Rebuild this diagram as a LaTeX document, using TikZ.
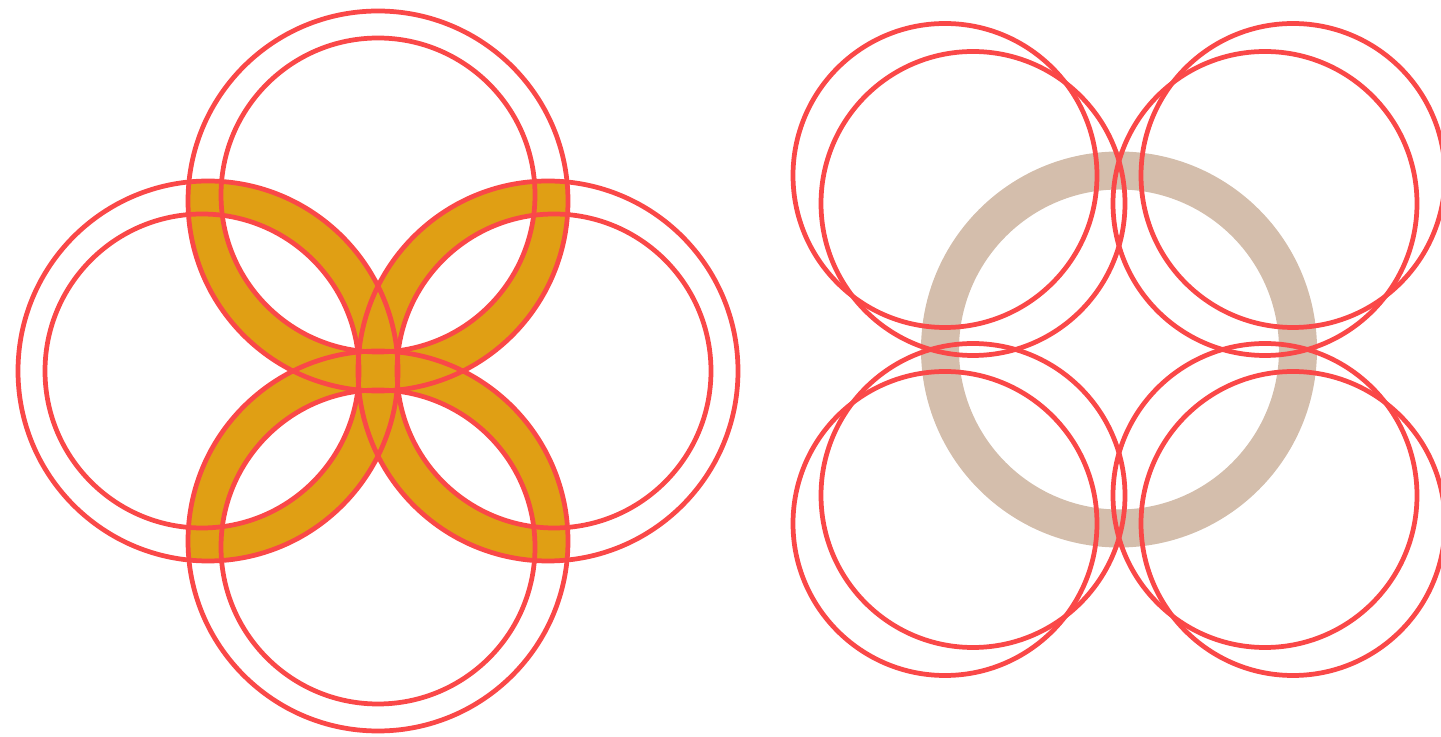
\documentclass[tikz,border=0pt]{standalone}
\usepackage{tikz}
\usetikzlibrary{calc}
\usepackage{xcolor}

\definecolor{loopred}{RGB}{250,72,72}
\definecolor{petalgold}{RGB}{224,159,20}
\definecolor{ringtan}{RGB}{212,190,172}

\begin{document}
\begin{tikzpicture}[
    x=0.02cm, y=0.02cm,
    redring/.style={draw=loopred, line width=2.7pt},
    petal/.style={fill=petalgold},
    hole/.style={fill=white},
    tanband/.style={fill=ringtan, even odd rule}
]
\useasboundingbox (0,0) rectangle (1441,737);
\coordinate (lc) at (378,366);
\coordinate (rc) at (1119,387.5);

% right: tan band behind the circles
\fill[tanband] (rc) circle[radius=198] (rc) circle[radius=160];

% left: gold lenses between neighbouring arms
\foreach \a/\b in {90/180, 90/0, 270/180, 270/0} {
    \begin{scope}
        \clip ($(lc)+(\a:170)$) circle[radius=190];
        \fill[petal] ($(lc)+(\b:170)$) circle[radius=190];
    \end{scope}
    \begin{scope}
        \clip ($(lc)+(\a:176)$) circle[radius=157];
        \fill[hole] ($(lc)+(\b:176)$) circle[radius=157];
    \end{scope}
}

\foreach \a in {0,90,180,270} {
    \draw[redring] ($(lc)+(\a:170)$) circle[radius=190];
    \draw[redring] ($(lc)+(\a:176)$) circle[radius=157];
}

\foreach \sx/\sy in {-1/-1,-1/1,1/-1,1/1} {
    \draw[redring] ($(rc)+(\sx*174,\sy*174)$) circle[radius=152];
    \draw[redring] ($(rc)+(\sx*146,\sy*146)$) circle[radius=152];
}
\end{tikzpicture}
\end{document}
